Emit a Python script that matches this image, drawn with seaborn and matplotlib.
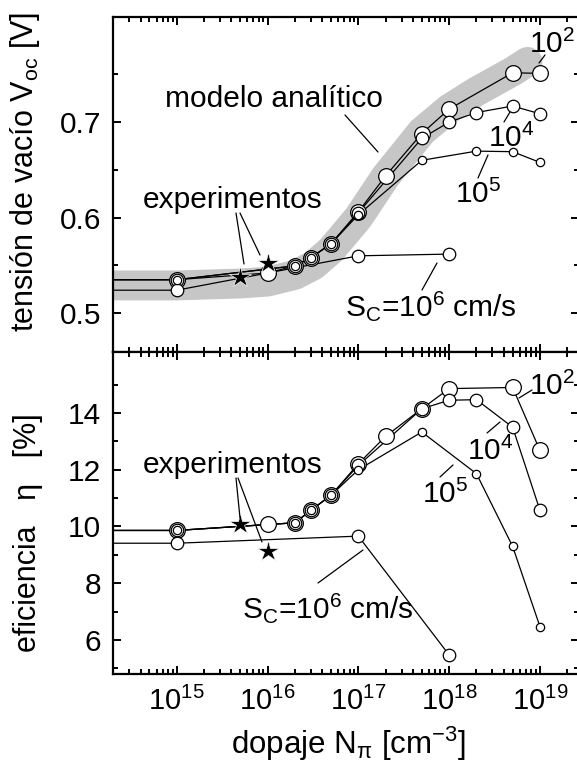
import matplotlib
matplotlib.use("Agg")
import matplotlib.pyplot as plt
import seaborn as sns
from matplotlib.ticker import FixedLocator, FixedFormatter, LogLocator, NullFormatter

W, H = 577, 767

# doping N (cm^-3) and results per surface recombination velocity S_C
n_sc2 = [1e14, 1e15, 1e16, 2e16, 3e16, 5e16, 1e17, 2e17, 5e17, 1e18, 5e18, 1e19]
voc_sc2 = [0.535, 0.535, 0.542, 0.5495, 0.558, 0.5726, 0.606, 0.6438, 0.688, 0.7136, 0.7516, 0.751]
eta_sc2 = [9.86, 9.86, 10.07, 10.13, 10.57, 11.1, 12.21, 13.18, 14.15, 14.86, 14.9, 12.68]

n_sc4 = [1e14, 1e15, 2e16, 3e16, 5e16, 1e17, 5e17, 1e18, 2e18, 5e18, 1e19]
voc_sc4 = [0.535, 0.535, 0.5495, 0.558, 0.5726, 0.605, 0.683, 0.700, 0.710, 0.7168, 0.7087]
eta_sc4 = [9.86, 9.86, 10.13, 10.57, 11.1, 12.15, 14.15, 14.45, 14.47, 13.5, 10.57]

n_sc5 = [1e14, 1e15, 2e16, 3e16, 5e16, 1e17, 5e17, 2e18, 5e18, 1e19]
voc_sc5 = [0.535, 0.535, 0.5495, 0.558, 0.5726, 0.603, 0.660, 0.6696, 0.669, 0.6578]
eta_sc5 = [9.86, 9.86, 10.13, 10.57, 11.1, 12.0, 13.33, 11.86, 9.3, 6.47]

n_sc6 = [1e14, 1e15, 1e17, 1e18]
voc_sc6 = [0.524, 0.524, 0.560, 0.5618]
eta_sc6 = [9.41, 9.41, 9.66, 5.47]

# experiments
n_exp = [5e15, 1e16]
voc_exp = [0.538, 0.552]
eta_exp = [10.07, 9.15]

# analytical model (thick grey band)
n_model = [1e14, 1e15, 5e15, 1e16, 2e16, 3.2e16, 5e16, 1e17, 2e17, 5e17, 1e18, 2e18, 5e18, 7.3e18]
voc_model = [0.529, 0.529, 0.531, 0.533, 0.540, 0.550, 0.566, 0.600, 0.643, 0.690, 0.714, 0.732, 0.753, 0.763]

x_ticks = [1e15, 1e16, 1e17, 1e18, 1e19]
x_labels = [r"$\mathregular{10^{15}}$", r"$\mathregular{10^{16}}$", r"$\mathregular{10^{17}}$",
            r"$\mathregular{10^{18}}$", r"$\mathregular{10^{19}}$"]
voc_ticks = [0.5, 0.6, 0.7]
voc_minor = [0.55, 0.65, 0.75]
eta_ticks = [6, 8, 10, 12, 14]
eta_minor = [5, 7, 9, 11, 13, 15]

sns.set_theme(style="ticks")
plt.rcParams["font.family"] = ["Liberation Sans", "DejaVu Sans"]
plt.rcParams["mathtext.fontset"] = "custom"
plt.rcParams["mathtext.rm"] = "Liberation Sans"
plt.rcParams["mathtext.it"] = "Liberation Sans:italic"
plt.rcParams["mathtext.bf"] = "Liberation Sans:bold"
plt.rcParams["mathtext.sf"] = "Liberation Sans"
for k in ("text.color", "axes.labelcolor", "xtick.color", "ytick.color", "axes.edgecolor"):
    plt.rcParams[k] = "black"

ANN = 21.5

fig = plt.figure(figsize=(W / 100, H / 100), dpi=100)
left = 112.7 / W
width = (579 - 112.7) / W
ax_v = fig.add_axes([left, 1 - 352.3 / H, width, (352.3 - 17) / H])
ax_e = fig.add_axes([left, 1 - 674 / H, width, (674 - 352.3) / H])

series = [
    ("1e2", n_sc2, voc_sc2, eta_sc2, 11.3),
    ("1e4", n_sc4, voc_sc4, eta_sc4, 9.0),
    ("1e6", n_sc6, voc_sc6, eta_sc6, 9.0),
    ("1e5", n_sc5, voc_sc5, eta_sc5, 6.0),
]

sns.lineplot(x=n_model, y=voc_model, ax=ax_v, color="#c6c6c6", lw=21.5,
             solid_capstyle="round", estimator=None, sort=False, zorder=1)

for ax, top in [(ax_v, True), (ax_e, False)]:
    for name, n, v, e, ms in series:
        sns.lineplot(x=n, y=v if top else e, ax=ax, color="black", lw=0.9,
                     estimator=None, sort=False, zorder=2)
    for name, n, v, e, ms in series:
        sns.lineplot(x=n, y=v if top else e, ax=ax, color="black", linestyle="",
                     marker="o", markersize=ms, markerfacecolor="white",
                     markeredgecolor="black", markeredgewidth=0.9,
                     estimator=None, sort=False, zorder=3)
    sns.lineplot(x=n_exp, y=voc_exp if top else eta_exp, ax=ax, color="black",
                 linestyle="", marker="*", markersize=16, markeredgewidth=0.5,
                 estimator=None, sort=False, zorder=4)

for ax in (ax_v, ax_e):
    ax.set_xscale("log")
    ax.set_xlim(10 ** 14.295, 10 ** 19.43)
    ax.xaxis.set_major_locator(FixedLocator(x_ticks))
    ax.xaxis.set_minor_locator(LogLocator(base=10, subs=range(2, 10), numticks=20))
    ax.xaxis.set_minor_formatter(NullFormatter())
    ax.tick_params(which="both", direction="in", top=True, right=True, width=1.4)
    ax.tick_params(which="major", length=6)
    ax.tick_params(which="minor", length=3.8)
    ax.tick_params(axis="y", pad=8.5, labelsize=21.5)
    ax.tick_params(axis="x", pad=9, labelsize=21)
    for s in ax.spines.values():
        s.set_linewidth(1.6)
    ax.grid(False)

ax_v.xaxis.set_major_formatter(NullFormatter())
ax_e.xaxis.set_major_formatter(FixedFormatter(x_labels))

ax_v.set_ylim(0.459, 0.81)
ax_v.yaxis.set_major_locator(FixedLocator(voc_ticks))
ax_v.yaxis.set_minor_locator(FixedLocator(voc_minor))
ax_v.yaxis.set_major_formatter(FixedFormatter([f"{t:.1f}" for t in voc_ticks]))

ax_e.set_ylim(4.8, 16.14)
ax_e.yaxis.set_major_locator(FixedLocator(eta_ticks))
ax_e.yaxis.set_minor_locator(FixedLocator(eta_minor))
ax_e.yaxis.set_major_formatter(FixedFormatter([str(t) for t in eta_ticks]))

ax_v.set_xlabel("")
ax_v.set_ylabel(r"tensión de vacío $\mathregular{V_{oc}}$ [V]", fontsize=22)
ax_e.set_ylabel("eficiencia   η   [%]", fontsize=22)
ax_e.set_xlabel(r"dopaje $\mathregular{N_{π}}$ [cm$\mathregular{^{-3}}$]", fontsize=22.5)
ax_v.yaxis.set_label_coords(-(112.7 - 42) / (579 - 112.7), 0.538)
ax_e.yaxis.set_label_coords(-(112.7 - 43) / (579 - 112.7), 0.441)
ax_e.xaxis.set_label_coords((348 - 112.7) / (579 - 112.7), -(725 - 674) / (674 - 352.3))


def label(x, y, s):
    fig.text(x / W, 1 - y / H, s, ha="left", va="baseline", fontsize=ANN)


def leader(p0, p1):
    fig.add_artist(plt.Line2D([p0[0] / W, p1[0] / W], [1 - p0[1] / H, 1 - p1[1] / H],
                              color="black", lw=0.9, transform=fig.transFigure))


# top panel annotations
label(165, 107, "modelo analítico")
leader((345, 115), (378, 152))
label(143, 208, "experimentos")
leader((236, 213), (244, 264))
leader((240, 213), (260, 255))
label(345, 316, r"$\mathregular{S_C}$=10$\mathregular{^6}$ cm/s")
leader((422, 290), (437, 263))
label(529, 53, r"10$\mathregular{^2}$")
leader((539, 63), (545, 55))
label(488, 147, r"10$\mathregular{^4}$")
leader((504, 122), (510, 112))
label(455, 203, r"10$\mathregular{^5}$")
leader((478, 178), (488, 155))

# bottom panel annotations
label(529, 395, r"10$\mathregular{^2}$")
leader((519, 398), (532, 390))
label(467, 460, r"10$\mathregular{^4}$")
leader((487, 433), (500, 422))
label(422, 503, r"10$\mathregular{^5}$")
leader((440, 477), (453, 465))
label(143, 473, "experimentos")
leader((236, 478), (240, 518))
leader((238, 478), (262, 542))
label(242, 618, r"$\mathregular{S_C}$=10$\mathregular{^6}$ cm/s")
leader((318, 583), (363, 550))

fig.savefig("out.png", dpi=100)
